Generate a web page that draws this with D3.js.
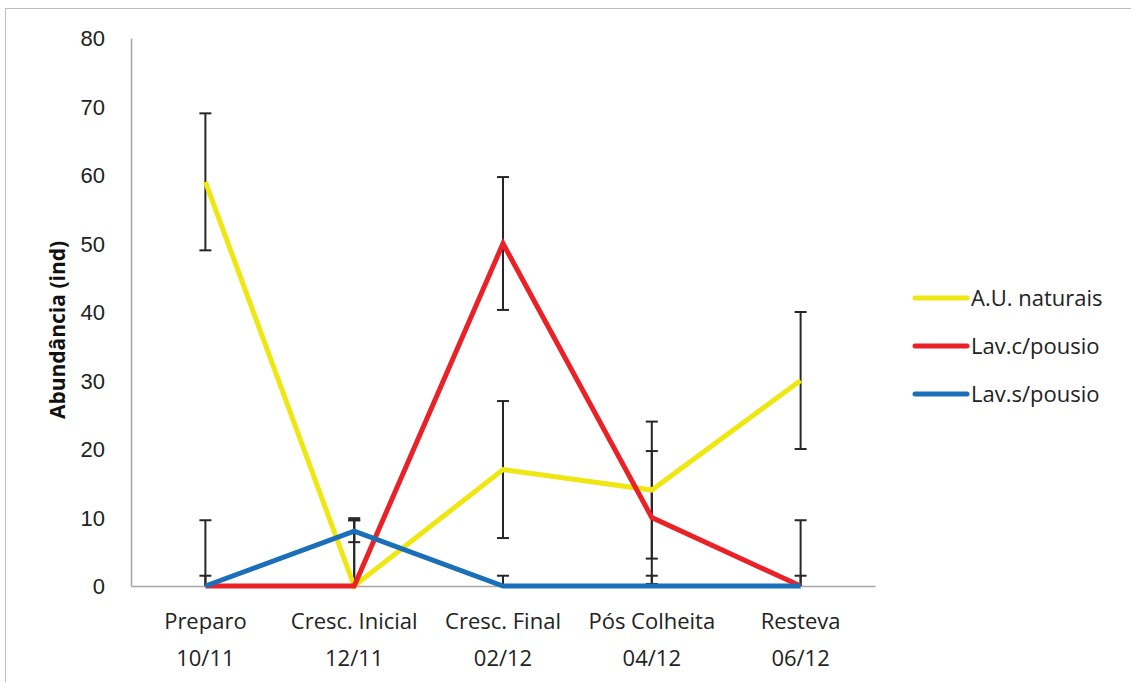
<!DOCTYPE html>
<html>
<head>
<meta charset="utf-8">
<script src="https://cdn.jsdelivr.net/npm/d3@7"></script>
<style>
  html, body { margin: 0; padding: 0; background: #fff; }
  svg { display: block; font-family: "Open Sans", "Liberation Sans", sans-serif; }
</style>
</head>
<body>
<svg id="chart" width="1131" height="682"></svg>
<script>
// Sampling periods (two-line labels)
const categories = ["Preparo", "Cresc. Inicial", "Cresc. Final", "Pós Colheita", "Resteva"];
const dates = ["10/11", "12/11", "02/12", "04/12", "06/12"];

const seriesNames = ["A.U. naturais", "Lav.c/pousio", "Lav.s/pousio"];
const seriesColors = ["#eee712", "#ea2228", "#1b6fb8"];

// Mean abundance per period
const auNaturais = [59, 0, 17, 14, 30];
const lavComPousio = [0, 0, 50, 10, 0];
const lavSemPousio = [0, 8, 0, 0, 0];

// Error amounts per period
const auNaturaisErr = [10, 9.9, 10, 10, 10];
const lavComPousioErr = [9.6, 9.6, 9.7, 9.7, 9.6];
const lavSemPousioErr = [1.5, 1.6, 1.5, 1.5, 1.5];

const yTicks = [0, 10, 20, 30, 40, 50, 60, 70, 80];

const series = [
  { name: seriesNames[0], color: seriesColors[0], values: auNaturais, err: auNaturaisErr },
  { name: seriesNames[1], color: seriesColors[1], values: lavComPousio, err: lavComPousioErr },
  { name: seriesNames[2], color: seriesColors[2], values: lavSemPousio, err: lavSemPousioErr }
];

const svg = d3.select("#chart");

// outer chart-area border
svg.append("rect")
  .attr("x", 5.5).attr("y", 8.5)
  .attr("width", 1140).attr("height", 700)
  .attr("fill", "none").attr("stroke", "#bdbdbd").attr("stroke-width", 1);

const plot = { left: 131, right: 875, top: 38, bottom: 586 };

const x = d3.scaleBand().domain(categories).range([plot.left, plot.right]);
const xc = c => x(c) + x.bandwidth() / 2;
const y = d3.scaleLinear().domain([0, 80]).range([plot.bottom, plot.top]);

// y axis
const yAxis = d3.axisLeft(y).tickValues(yTicks).tickSize(0).tickPadding(26);
const gy = svg.append("g").attr("transform", `translate(${plot.left},0)`).call(yAxis);
gy.select(".domain").attr("stroke", "#a6a6a6").attr("stroke-width", 1.5);
gy.selectAll("text").attr("font-size", 22).attr("fill", "#222").attr("dy", "0.35em");

// x axis
const xAxis = d3.axisBottom(x).tickSize(0).tickFormat("");
const gx = svg.append("g").attr("transform", `translate(0,${plot.bottom})`).call(xAxis);
gx.select(".domain").attr("stroke", "#a6a6a6").attr("stroke-width", 1.5);

// two-line category labels
const labels = svg.append("g");
categories.forEach((c, i) => {
  const t = labels.append("text")
    .attr("x", xc(c)).attr("y", 629)
    .attr("text-anchor", "middle").attr("font-size", 22).attr("fill", "#222");
  t.append("tspan").attr("x", xc(c)).text(c);
  t.append("tspan").attr("x", xc(c)).attr("dy", 37).text(dates[i]);
});

// y axis title
svg.append("text")
  .attr("transform", `translate(65,${(plot.top + plot.bottom) / 2 + 18}) rotate(-90)`)
  .attr("text-anchor", "middle").attr("font-size", 21).attr("font-weight", "bold")
  .attr("fill", "#111")
  .text("Abundância (ind)");

// error bars (lower part clipped at the axis minimum)
const capHalf = 6;
const eb = svg.append("g").attr("stroke", "#262626").attr("stroke-width", 2);
series.forEach(s => {
  s.values.forEach((v, i) => {
    const cx = xc(categories[i]);
    const hi = v + s.err[i];
    const lo = v - s.err[i];
    const loClamped = Math.max(lo, 0);
    eb.append("line").attr("x1", cx).attr("x2", cx).attr("y1", y(hi)).attr("y2", y(loClamped));
    eb.append("line").attr("x1", cx - capHalf).attr("x2", cx + capHalf).attr("y1", y(hi)).attr("y2", y(hi));
    if (lo >= 0) {
      eb.append("line").attr("x1", cx - capHalf).attr("x2", cx + capHalf).attr("y1", y(lo)).attr("y2", y(lo));
    }
  });
});

// series lines
const line = d3.line().x((d, i) => xc(categories[i])).y(d => y(d));
series.forEach(s => {
  svg.append("path")
    .datum(s.values)
    .attr("d", line)
    .attr("fill", "none")
    .attr("stroke", s.color)
    .attr("stroke-width", 5)
    .attr("stroke-linejoin", "miter");
});

// legend
const legend = svg.append("g");
series.forEach((s, i) => {
  const ly = 298 + i * 48;
  legend.append("line")
    .attr("x1", 915).attr("x2", 967).attr("y1", ly).attr("y2", ly)
    .attr("stroke", s.color).attr("stroke-width", 5).attr("stroke-linecap", "round");
  legend.append("text")
    .attr("x", 971).attr("y", ly + 8)
    .attr("font-size", 22).attr("fill", "#222")
    .text(s.name);
});
</script>
</body>
</html>
